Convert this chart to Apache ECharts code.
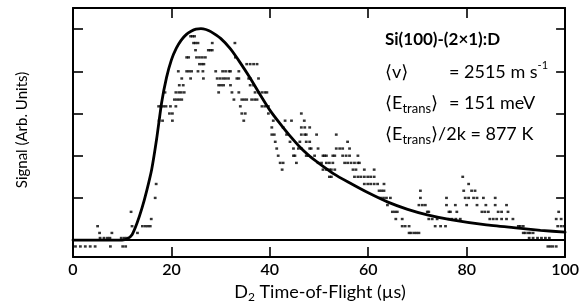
<!DOCTYPE html>
<html><head><meta charset="utf-8">
<script src="https://cdn.jsdelivr.net/npm/echarts@6/dist/echarts.min.js"></script>
<style>html,body{margin:0;padding:0;background:#fff}#c{width:582px;height:307px}</style>
</head><body><div id="c"></div>
<script>
// ---- data ----
const xTickStep = 20;
const yTickValues = [1, 2, 3, 4, 5];
const baselineX = [0, 100];
const baselineY = [0, 0];
// fitted time-of-flight curve
const fitX = [0, 10, 11, 12, 13, 14, 15, 16, 17, 18, 19, 20, 21, 22, 23, 24, 25, 26, 27, 28, 30, 32, 34, 36, 38, 40, 42, 44, 46, 48, 50, 53, 56, 60, 64, 68, 72, 77, 84, 90, 95, 100];
const fitY = [0, 0, 0.03, 0.13, 0.4, 0.75, 1.18, 1.68, 2.4, 3.25, 3.85, 4.27, 4.55, 4.74, 4.87, 4.95, 5.0, 5.01, 4.99, 4.94, 4.78, 4.53, 4.2, 3.84, 3.45, 3.08, 2.77, 2.48, 2.22, 2.0, 1.82, 1.57, 1.37, 1.12, 0.9, 0.73, 0.6, 0.48, 0.36, 0.29, 0.23, 0.19];
// measured signal, grouped by quantised level: level -> times
const dotLevels = [-0.15, 0.05, 0.17, 0.33, 0.5, 0.67, 0.83, 1.0, 1.17, 1.33, 1.5, 1.67, 1.83, 2.0, 2.17, 2.33, 2.5, 2.67, 2.83, 3.0, 3.17, 3.33, 3.5, 3.67, 3.83, 4.0, 4.17, 4.33, 4.5, 4.67, 4.83];
const dotTimes = [
  [0.5, 1.5, 2.5, 3.5, 4.5, 7.6, 10.1, 10.7, 96.5, 97.0, 97.5, 98.2],
  [5.5, 6.3, 7.0, 7.5, 9.8, 10.4, 10.9, 92.7, 93.5, 94.4, 95.2, 96.0, 96.8],
  [5.4, 7.9, 13.1, 68.3, 68.7, 69.3, 69.8, 70.3, 91.5, 91.9, 92.5, 92.9, 93.5],
  [5.0, 12.0, 14.1, 14.7, 15.2, 15.7, 66.9, 67.5, 68.3, 73.6, 74.7, 75.7, 90.5, 90.9, 91.5, 98.5, 99.2, 99.8],
  [15.9, 65.6, 66.9, 72.3, 73.0, 74.0, 76.4, 77.0, 77.8, 78.7, 84.7, 85.4, 86.1, 87.1, 88.1, 89.4, 98.2, 99.2],
  [11.8, 64.9, 65.4, 65.9, 72.0, 72.3, 76.4, 76.7, 78.0, 83.1, 83.7, 84.4, 86.4, 87.1, 88.4, 98.7],
  [63.9, 70.3, 71.0, 71.6, 75.9, 77.7, 80.0, 82.1, 83.9, 85.8, 88.1],
  [16.7, 62.5, 63.1, 63.7, 64.5, 70.6, 75.9, 79.7, 80.4, 81.4, 82.1, 83.4, 85.8],
  [62.2, 62.7, 63.2, 70.6, 79.4, 81.0, 81.7],
  [16.9, 59.2, 59.9, 60.5, 61.2, 61.9, 63.2, 80.4],
  [52.1, 52.5, 57.2, 57.9, 58.5, 59.2, 59.9, 60.5, 61.2, 79.2],
  [42.5, 50.8, 51.5, 52.1, 52.5, 53.2, 56.9, 57.5, 59.2, 61.2],
  [42.1, 42.7, 45.4, 49.8, 50.5, 51.5, 52.1, 52.8, 55.2, 55.8, 56.5, 57.2, 57.9, 58.2],
  [41.7, 44.8, 45.1, 47.4, 47.8, 49.1, 50.8, 51.1, 51.5, 52.8, 53.2, 54.8, 55.5, 56.2, 57.9],
  [41.4, 44.8, 45.8, 46.4, 48.1, 48.4, 49.8, 53.5, 54.2, 54.8, 56.2],
  [41.1, 44.1, 46.1, 47.4, 48.1, 55.8],
  [40.4, 40.9, 43.4, 46.4, 47.1, 47.4, 49.5, 53.5],
  [40.4, 42.7, 46.4, 47.1, 48.1],
  [17.5, 18.2, 20.2, 34.7, 40.7, 43.1, 44.4, 47.0],
  [19.6, 20.2, 34.3, 35.0, 39.7, 46.4],
  [17.4, 17.9, 18.4, 18.9, 19.8, 20.9, 34.0, 38.4, 39.0, 39.7],
  [20.6, 21.1, 21.6, 22.1, 32.7, 34.3, 34.8, 35.3, 36.3, 36.9, 37.4],
  [18.7, 20.9, 21.5, 22.0, 22.6, 29.6, 32.3, 33.7, 37.0, 37.7, 38.4, 39.0, 39.4],
  [21.6, 22.4, 29.6, 30.1, 30.6, 32.0, 36.0, 36.7],
  [22.1, 23.9, 26.5, 29.3, 29.9, 30.5, 31.0, 31.6, 33.3, 33.7, 35.7, 36.0, 37.7],
  [21.4, 23.1, 23.6, 24.1, 25.4, 26.4, 29.0, 30.4, 31.0, 31.7, 32.0, 33.7],
  [25.7, 26.2, 26.6, 35.3, 36.0, 36.7, 37.4],
  [23.1, 23.5, 25.1, 25.7, 26.3, 26.9, 33.0],
  [24.9, 27.5, 27.9, 28.3],
  [24.5, 24.9, 25.4, 28.3, 32.9],
  [23.9, 24.3, 24.7]
];
// ---- build ----
const FONT = 'Lato, "DejaVu Sans", sans-serif';
const fitData = fitX.map((x, i) => [x, fitY[i]]);
const baseData = baselineX.map((x, i) => [x, baselineY[i]]);
const dots = [];
dotLevels.forEach((lv, i) => dotTimes[i].forEach(t => dots.push([t, lv])));

const axisLine = { show: true, onZero: false, lineStyle: { color: '#000', width: 2 } };
const tick = (len) => ({ show: true, inside: true, length: len, lineStyle: { color: '#000', width: 1.6 } });

const rich = {
  n: { fontSize: 18, fontFamily: FONT, color: '#000', lineHeight: 24 },
  b: { fontSize: 17, fontFamily: FONT, color: '#000', fontWeight: 'bold', lineHeight: 24 },
  sub: { fontSize: 13, fontFamily: FONT, color: '#000', lineHeight: 2, verticalAlign: 'bottom' },
  sup: { fontSize: 11, fontFamily: FONT, color: '#000', lineHeight: 2, verticalAlign: 'top' },
  t: { fontSize: 18, fontFamily: FONT, color: '#000', lineHeight: 22 },
  ts: { fontSize: 12, fontFamily: FONT, color: '#000', lineHeight: 2, verticalAlign: 'bottom' }
};
const txt = (x, y, text, extra) => Object.assign({
  type: 'text', x: x, y: y, z: 100,
  style: { text: text, rich: rich, verticalAlign: 'middle', align: 'left', fill: '#000', font: '18px ' + FONT }
}, extra || {});

const chart = echarts.init(document.getElementById('c'), null, { renderer: 'canvas' });
chart.setOption({
  animation: false,
  backgroundColor: '#fff',
  grid: { left: 73, right: 13, top: 8, bottom: 50 },
  xAxis: [
    { type: 'value', position: 'bottom', min: 0, max: 100, interval: xTickStep,
      axisLine: axisLine, axisTick: tick(10), splitLine: { show: false },
      axisLabel: { color: '#000', fontSize: 16, fontFamily: FONT, fontWeight: 600, margin: 5,
        showMinLabel: true, showMaxLabel: true } },
    { type: 'value', position: 'top', min: 0, max: 100, interval: xTickStep,
      axisLine: axisLine, axisTick: tick(10), splitLine: { show: false }, axisLabel: { show: false } }
  ],
  yAxis: [
    { type: 'value', position: 'left', min: -0.4, max: 5.5,
      axisLine: axisLine, axisTick: Object.assign(tick(10), { customValues: yTickValues }),
      splitLine: { show: false }, axisLabel: { show: false } },
    { type: 'value', position: 'right', min: -0.4, max: 5.5,
      axisLine: axisLine, axisTick: Object.assign(tick(9), { customValues: yTickValues }),
      splitLine: { show: false }, axisLabel: { show: false } }
  ],
  series: [
    { type: 'line', data: baseData, symbol: 'none', silent: true,
      lineStyle: { color: '#000', width: 2 }, z: 2 },
    { type: 'scatter', data: dots, symbol: 'rect', symbolSize: [2.8, 2.4],
      itemStyle: { color: '#000' }, z: 3 },
    { type: 'line', data: fitData, symbol: 'none', smooth: 0.15,
      lineStyle: { color: '#000', width: 2.8, join: 'round', cap: 'round' }, z: 4 }
  ],
  graphic: [
    txt(22, 130, '', { rotation: Math.PI / 2,
      style: { text: 'Signal (Arb. Units)', font: '15px ' + FONT, fill: '#000', align: 'center', verticalAlign: 'middle' } }),
    txt(320, 292, '', { style: { text: '{t|D}{ts|2}{t| Time-of-Flight (µs)}', rich: rich, align: 'center', verticalAlign: 'middle' } }),
    txt(385, 40, '{b|Si(100)-(2×1):D}'),
    txt(385, 72, '{n|⟨v⟩}'),
    txt(449, 72, '{n|= 2515 m s}{sup|-1}'),
    txt(385, 103, '{n|⟨E}{sub|trans}{n|⟩}'),
    txt(449, 103, '{n|= 151 meV}'),
    txt(385, 134, '{n|⟨E}{sub|trans}{n|⟩/2k = 877 K}')
  ]
});
</script></body></html>
